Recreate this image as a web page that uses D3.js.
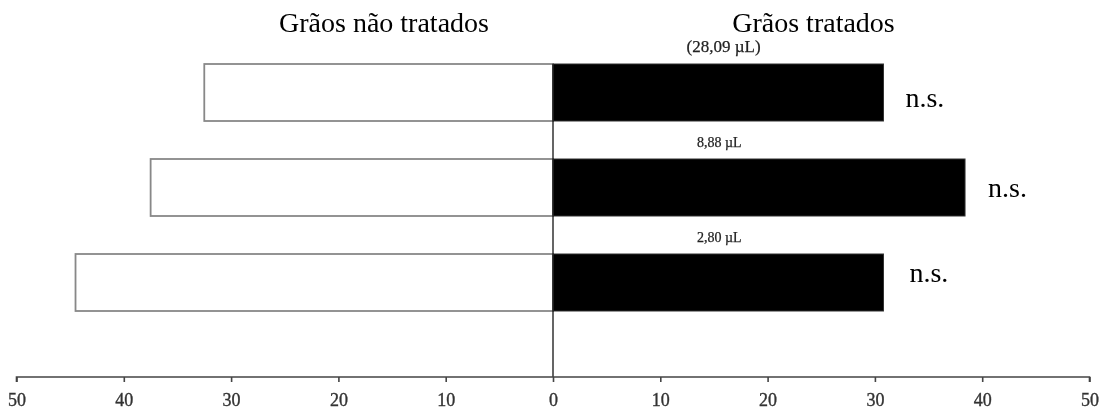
<!DOCTYPE html>
<html>
<head>
<meta charset="utf-8">
<script src="https://cdn.jsdelivr.net/npm/d3@7"></script>
<style>
  html, body { margin: 0; padding: 0; background: #fff; }
  svg { display: block; }
</style>
</head>
<body>
<svg id="chart" width="1099" height="412"></svg>
<script>
// Doses applied (one row per dose, top to bottom)
const doses = ["(28,09 µL)", "8,88 µL", "2,80 µL"];
// Response on untreated grains (left side)
const untreated = [32.5, 37.5, 44.5];
// Response on treated grains (right side)
const treated = [30.8, 38.4, 30.8];
// Significance marks per row
const significance = ["n.s.", "n.s.", "n.s."];
// Axis tick values (shown as absolute numbers)
const tickValues = [-50, -40, -30, -20, -10, 0, 10, 20, 30, 40, 50];
// Side headings
const headings = ["Grãos não tratados", "Grãos tratados"];

const W = 1099, H = 412;
const axisY = 377;
const serif = "'Liberation Serif', 'Times New Roman', serif";

const svg = d3.select("#chart");

// Soft edges on the drawn body of the chart
const defs = svg.append("defs");
defs.append("filter").attr("id", "soft")
  .attr("x", "-5%").attr("y", "-5%").attr("width", "110%").attr("height", "110%")
  .append("feGaussianBlur").attr("stdDeviation", 0.6);

const x = d3.scaleLinear().domain([-50, 50]).range([16.5, 1089.5]);
const y = d3.scaleBand().domain(doses).range([45, 330])
  .paddingInner(0.4).paddingOuter(0.2);

const rows = doses.map((d, i) => ({
  dose: d, left: untreated[i], right: treated[i], sig: significance[i]
}));

const body = svg.append("g").attr("filter", "url(#soft)");

// Untreated bars extend to the left of zero
body.append("g").selectAll("rect").data(rows).join("rect")
  .attr("x", d => x(-d.left))
  .attr("y", d => y(d.dose))
  .attr("width", d => x(0) - x(-d.left))
  .attr("height", y.bandwidth())
  .attr("fill", "#fff")
  .attr("stroke", "#888")
  .attr("stroke-width", 1.8);

// Treated bars extend to the right
body.append("g").selectAll("rect").data(rows).join("rect")
  .attr("x", x(0))
  .attr("y", d => y(d.dose))
  .attr("width", d => x(d.right) - x(0))
  .attr("height", y.bandwidth())
  .attr("fill", "#000")
  .attr("stroke", "#333")
  .attr("stroke-width", 1);

// Central vertical axis
body.append("line")
  .attr("x1", x(0)).attr("x2", x(0))
  .attr("y1", y(doses[0])).attr("y2", axisY)
  .attr("stroke", "#222").attr("stroke-width", 1.4);

// Bottom axis
const xAxis = d3.axisBottom(x)
  .tickValues(tickValues)
  .tickSize(5)
  .tickPadding(11)
  .tickFormat(d => Math.abs(d));

const ax = body.append("g")
  .attr("transform", `translate(0,${axisY})`)
  .call(xAxis);
ax.select(".domain").attr("stroke", "#444").attr("stroke-width", 1.6)
  .attr("d", `M${x(-50)},5V0H${x(50)}V5`);
ax.selectAll(".tick line").attr("stroke", "#444").attr("stroke-width", 1.6);
ax.selectAll(".tick text")
  .attr("font-family", serif)
  .attr("font-size", 18)
  .attr("fill", "#333")
  .attr("stroke", "#333")
  .attr("stroke-width", 0.35)
  .attr("dy", "0.71em");

// Dose labels above each treated bar
const doseLabelStyle = [{x: 15.9, size: 17}, {x: 15.5, size: 14}, {x: 15.5, size: 14}];
body.append("g").selectAll("text").data(rows).join("text")
  .attr("x", (d, i) => x(doseLabelStyle[i].x))
  .attr("y", d => y(d.dose) - 12)
  .attr("text-anchor", "middle")
  .attr("font-family", serif)
  .attr("font-size", (d, i) => doseLabelStyle[i].size)
  .attr("fill", "#222")
  .attr("stroke", "#222")
  .attr("stroke-width", 0.25)
  .text(d => d.dose);

// Significance marks next to treated bars
const sigShift = [{dx: 22, dy: 14}, {dx: 23, dy: 9}, {dx: 26, dy: -1}];
svg.append("g").selectAll("text").data(rows).join("text")
  .attr("x", (d, i) => x(d.right) + sigShift[i].dx)
  .attr("y", (d, i) => y(d.dose) + y.bandwidth() / 2 + sigShift[i].dy)
  .attr("font-family", serif)
  .attr("font-size", 28)
  .attr("fill", "#000")
  .text(d => d.sig);

// Side headings
svg.append("g").selectAll("text").data(headings).join("text")
  .attr("x", (d, i) => i === 0 ? 384 : 813.5)
  .attr("y", 32)
  .attr("text-anchor", "middle")
  .attr("font-family", serif)
  .attr("font-size", 28)
  .attr("fill", "#000")
  .text(d => d);
</script>
</body>
</html>
